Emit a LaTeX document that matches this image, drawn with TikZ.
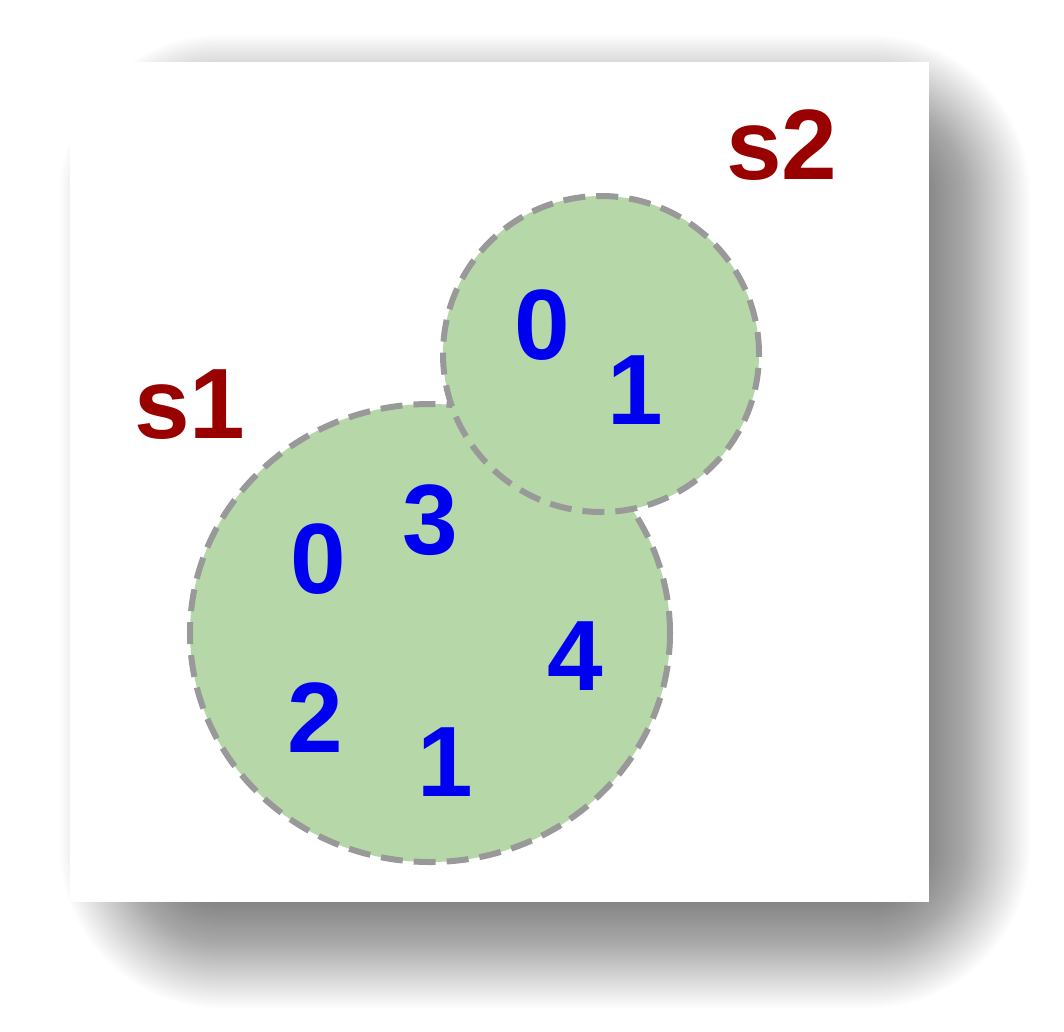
\documentclass[tikz,border=0pt]{standalone}
\usepackage{fontspec}
\setmainfont{Liberation Sans}
\usetikzlibrary{shapes.geometric}
\definecolor{setgreen}{HTML}{B6D7A8}
\definecolor{setgray}{HTML}{999999}
\definecolor{numblue}{HTML}{0000F0}
\definecolor{labred}{HTML}{990000}
\tikzset{
  card/.style={rectangle, fill=white, inner sep=0pt, minimum width=859pt, minimum height=840pt},
  shadowlayer/.style={fill=black, fill opacity=0.011, draw=none},
  setshape/.style={fill=setgreen, draw=setgray, line width=6pt, dash pattern=on 22pt off 11pt, inner sep=0pt},
  num/.style={text=numblue, inner sep=0pt, font=\fontsize{100}{100}\selectfont\bfseries},
  lab/.style={text=labred, inner sep=0pt, font=\fontsize{100}{100}\selectfont\bfseries}
}
\begin{document}
\begin{tikzpicture}[x=1pt, y=-1pt]
\useasboundingbox (0,0) rectangle (1064,1031);
\fill[white] (0,0) rectangle (1064,1031);
% soft drop shadow of the card
\foreach \i in {1,...,70}{
  \pgfmathsetmacro\e{-80+160*\i/70}
  \pgfmathsetmacro\rc{\e+81}
  \fill[shadowlayer, rounded corners=\rc pt] (140-\e,115-\e) rectangle (950+\e,928+\e);
}
\node[card] (card) at (499.5,482) {};
\node[setshape, ellipse, minimum width=480pt, minimum height=458pt] (s1set) at (430,633) {};
\node[setshape, circle, minimum size=316pt] (s2set) at (601,354) {};
\node[lab] (s1lab) at (190,405) {s1};
\node[lab] (s2lab) at (782,145) {s2};
\node[num] (a0) at (318,559) {0};
\node[num] (a3) at (430,520) {3};
\node[num] (a2) at (315,718) {2};
\node[num] (a1) at (445,762) {1};
\node[num] (a4) at (575,656) {4};
\node[num] (b0) at (542,325) {0};
\node[num] (b1) at (635,390) {1};
\end{tikzpicture}
\end{document}
